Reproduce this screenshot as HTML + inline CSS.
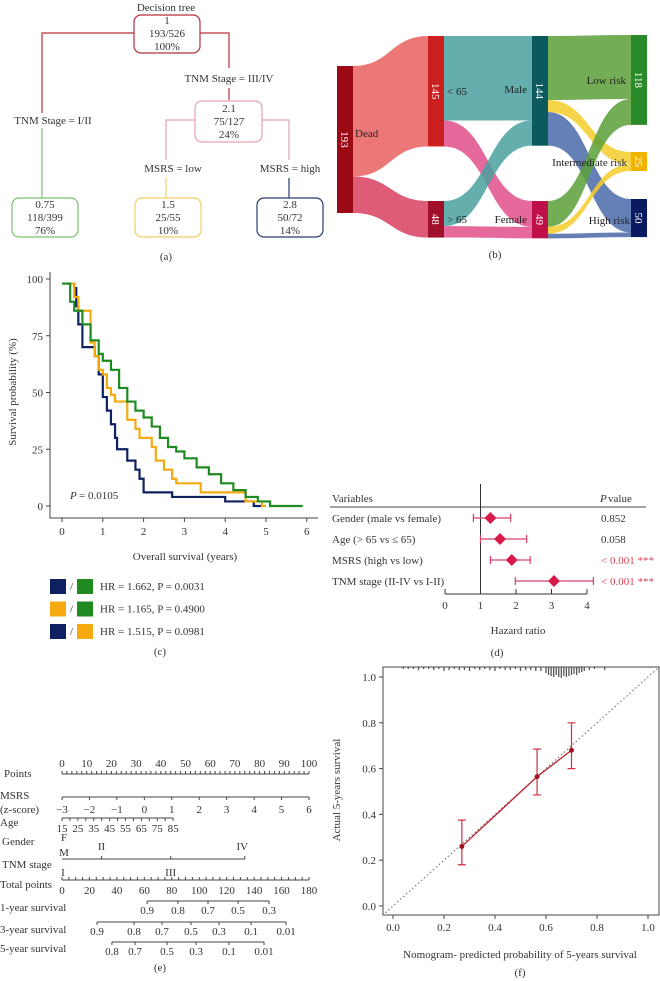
<!DOCTYPE html>
<html><head><meta charset="utf-8"><style>
html,body{margin:0;padding:0;background:#fff}
svg{display:block;font-family:"Liberation Serif",serif;fill:#333}
text{font-size:11px}
</style></head><body>
<svg id="root" width="660" height="981" viewBox="0 0 660 981" xmlns="http://www.w3.org/2000/svg">
<g font-size="11" text-anchor="middle">
<text x="166" y="11">Decision tree</text>
<path d="M134 33H42V113M200 33H229V68M229 88V100" fill="none" stroke="#b5303a" stroke-width="1.2"/>
<path d="M42 128V198" stroke="#7cc070" stroke-width="1.2"/>
<path d="M195 120H166V160M262 120H289V160" fill="none" stroke="#eaa0ad" stroke-width="1.2"/>
<path d="M166 178V198" stroke="#f0d060" stroke-width="1.2"/>
<path d="M289 178V198" stroke="#2a3a70" stroke-width="1.2"/>
<rect x="134" y="15" width="66" height="38" rx="7" fill="#fff" stroke="#b5303a" stroke-width="1.2"/>
<text x="167" y="24">1</text><text x="167" y="37">193/526</text><text x="167" y="50">100%</text>
<text x="229" y="82">TNM Stage = III/IV</text>
<rect x="195" y="101" width="67" height="41" rx="7" fill="#fff" stroke="#eaa0ad" stroke-width="1.2"/>
<text x="229" y="112">2.1</text><text x="229" y="125">75/127</text><text x="229" y="138">24%</text>
<text x="53" y="124">TNM Stage = I/II</text>
<text x="173" y="172">MSRS = low</text>
<text x="290" y="172">MSRS = high</text>
<rect x="12" y="198" width="66" height="39" rx="7" fill="#fff" stroke="#7cc070" stroke-width="1.2"/>
<text x="45" y="208">0.75</text><text x="45" y="221">118/399</text><text x="45" y="234">76%</text>
<rect x="135" y="198" width="66" height="39" rx="7" fill="#fff" stroke="#f0d060" stroke-width="1.2"/>
<text x="168" y="208">1.5</text><text x="168" y="221">25/55</text><text x="168" y="234">10%</text>
<rect x="257" y="198" width="66" height="39" rx="7" fill="#fff" stroke="#2a3a70" stroke-width="1.2"/>
<text x="290" y="208">2.8</text><text x="290" y="221">50/72</text><text x="290" y="234">14%</text>
<text x="166" y="260">(a)</text>
</g>
<g id="sankey"></g>
<g id="km"></g>
<g id="forest"></g>
<g id="nomo"></g>
<g id="calib"></g>
</svg>
<script>
const NS="http://www.w3.org/2000/svg";
function mk(p,tag,at,txt){const e=document.createElementNS(NS,tag);for(const k in at)e.setAttribute(k,at[k]);if(txt!==undefined)e.textContent=txt;p.appendChild(e);return e;}

const sankeyNodes=["Dead","< 65","> 65","Male","Female","Low risk","Intermediate risk","High risk"];
const sankeyCounts=[193,145,48,144,49,118,25,50];
const sankeyLinks=[[0,1,145],[0,2,48],[1,3,111],[1,4,34],[2,3,33],[2,4,15],[3,5,84],[3,6,16],[3,7,44],[4,5,34],[4,6,9],[4,7,6]];
(function(){
const g=document.getElementById('sankey');
const colX=[337,428,428,532,532,631,631,631];
const nodeY=[66,36,201,36,201,35,152,199];
const scale=147/193;
const nodeCol=["#9b0a14","#cc1f1f","#a0102a","#0a5a5e","#c0104a","#2a8a2a","#f0b400","#0a1a60"];
const outOff=sankeyCounts.map(()=>0), inOff=sankeyCounts.map(()=>0);
sankeyLinks.forEach((l,i)=>{
 const [s,t,v]=l;const h=v*scale;
 const x1=colX[s]+16,x2=colX[t];
 const y1=nodeY[s]+outOff[s]*scale, y2=nodeY[t]+inOff[t]*scale;
 outOff[s]+=v;inOff[t]+=v;
 let c;
 if(s===0)c=t===1?"#e8605f":"#d84060";
 else if(s<=2)c=t===3?"#4aa0a0":"#e0508a";
 else c=t===5?"#5aa03a":(t===6?"#f5cc2a":"#4a6aaa");
 const mx=(x1+x2)/2;
 const p=mk(g,'path',{d:`M${x1} ${y1}C${mx} ${y1} ${mx} ${y2} ${x2} ${y2}L${x2} ${y2+h}C${mx} ${y2+h} ${mx} ${y1+h} ${x1} ${y1+h}Z`,fill:c,'fill-opacity':0.85});
 
 
});
sankeyNodes.forEach((n,i)=>{
 const h=sankeyCounts[i]*scale;
 const r=mk(g,'rect',{x:colX[i],y:nodeY[i],width:16,height:h,fill:nodeCol[i]});
 
 
 const cx=colX[i]+8,cy=nodeY[i]+h/2;
 mk(g,'text',{x:cx,y:cy+4,transform:`rotate(90 ${cx} ${cy})`,'text-anchor':'middle',fill:'#fff','font-size':10},sankeyCounts[i]);
});
const lab=[["Dead",355,137,"start"],["< 65",447,95,"start"],["> 65",447,223,"start"],["Male",527,93,"end"],["Female",527,223,"end"],["Low risk",626,84,"end"],["Intermediate risk",627,166,"end"],["High risk",630,224,"end"]];
lab.forEach(l=>{const t=mk(g,'text',{x:l[1],y:l[2],'text-anchor':l[3],fill:'#222','font-size':11},l[0]);
 
 });
mk(g,'text',{x:495,y:258,'text-anchor':'middle'},'(b)');
})();

const kmGreenT=[0,0.1,0.2,0.3,0.5,0.7,0.9,1.0,1.2,1.4,1.6,1.8,2.0,2.2,2.4,2.6,2.8,3.0,3.3,3.6,3.9,4.2,4.5,4.8,5.1,5.9];
const kmGreenS=[98,98,90,86,80,73,67,64,60,52,46,42,39,35,30,26,24,21,17,14,10,7,4,2,0,0];
const kmYellowT=[0.1,0.3,0.4,0.7,0.8,0.9,1.0,1.1,1.2,1.3,1.6,1.8,1.9,2.2,2.3,2.5,2.7,2.8,3.4,4.5,4.9,5.0];
const kmYellowS=[98,92,86,72,66,60,58,52,49,46,38,34,30,26,20,16,12,10,6,2,0,0];
const kmNavyT=[0.1,0.3,0.35,0.4,0.5,0.7,0.8,0.9,1.0,1.1,1.2,1.3,1.35,1.6,1.8,1.9,2.0,2.7,4.0,4.6,4.7,4.9];
const kmNavyS=[98,96,88,80,70,70,66,58,48,42,36,30,25,20,16,12,6,4,2,2,0,0];
const kmXTicks=[0,1,2,3,4,5,6];
const kmYTicks=[0,25,50,75,100];
(function(){
const g=document.getElementById('km');
const X=t=>62+t*40.8, Y=s=>506-s*2.27;
mk(g,'path',{d:'M50 272V518H318',fill:'none',stroke:'#444','stroke-width':1});
kmXTicks.forEach(t=>{mk(g,'line',{x1:X(t),x2:X(t),y1:518,y2:522,stroke:'#444'});mk(g,'text',{x:X(t),y:535,'text-anchor':'middle'},t);});
kmYTicks.forEach(s=>{mk(g,'line',{x1:46,x2:50,y1:Y(s),y2:Y(s),stroke:'#444'});mk(g,'text',{x:43,y:Y(s)+4,'text-anchor':'end'},s);});
function step(T,S,col,name){let d=`M${X(T[0])} ${Y(S[0])}`;for(let i=1;i<T.length;i++){d+=`H${X(T[i])}V${Y(S[i])}`;}
 const p=mk(g,'path',{d,fill:'none',stroke:col,'stroke-width':2.2});
 
 }
step(kmNavyT,kmNavyS,'#0f2060','km-curve-high');
step(kmYellowT,kmYellowS,'#f5aa10','km-curve-intermediate');
step(kmGreenT,kmGreenS,'#1f8a20','km-curve-low');
mk(g,'text',{x:70,y:499,'font-style':'italic'},'P');
mk(g,'text',{x:79,y:499},'= 0.0105');
mk(g,'text',{x:185,y:560,'text-anchor':'middle'},'Overall survival (years)');
mk(g,'text',{x:16,y:392,'text-anchor':'middle',transform:'rotate(-90 16 392)'},'Survival probability (%)');
const leg=[['#0f2060','#1f8a20','HR = 1.662, P = 0.0031'],['#f5aa10','#1f8a20','HR = 1.165, P = 0.4900'],['#0f2060','#f5aa10','HR = 1.515, P = 0.0981']];
leg.forEach((l,i)=>{const y=579+i*22.5;
 const a=mk(g,'rect',{x:50,y,width:16,height:15,fill:l[0]});
 
 
 mk(g,'rect',{x:77,y,width:16,height:15,fill:l[1]});
 mk(g,'text',{x:70,y:y+11,'font-size':9},'/');
 const t=mk(g,'text',{x:100,y:y+11},l[2]);
 
 });
mk(g,'text',{x:160,y:655,'text-anchor':'middle'},'(c)');
})();

const forestVars=["Gender (male vs female)","Age (> 65 vs \u2264 65)","MSRS (high vs low)","TNM stage (II-IV vs I-II)"];
const forestHR=[1.28,1.55,1.88,3.07];
const forestLo=[0.8,1.0,1.28,1.98];
const forestHi=[1.85,2.3,2.4,4.18];
const forestP=["0.852","0.058","< 0.001","< 0.001"];
const forestTicks=[0,1,2,3,4];
(function(){
const g=document.getElementById('forest');
const X=v=>445+v*35.5;
mk(g,'text',{x:332,y:502},'Variables');
mk(g,'text',{x:600,y:502,'font-style':'italic'},'P');
mk(g,'text',{x:608,y:502},'value');
mk(g,'line',{x1:330,x2:646,y1:507,y2:507,stroke:'#444'});
mk(g,'line',{x1:X(1),x2:X(1),y1:484,y2:594,stroke:'#333'});
mk(g,'line',{x1:X(0),x2:X(4),y1:594,y2:594,stroke:'#333'});
forestTicks.forEach(t=>{mk(g,'line',{x1:X(t),x2:X(t),y1:594,y2:589,stroke:'#333'});mk(g,'text',{x:X(t),y:609,'text-anchor':'middle'},t);});
forestVars.forEach((v,i)=>{const y=518+i*21;
 mk(g,'text',{x:332,y:y+4},v);
 const l=mk(g,'path',{d:`M${X(forestLo[i])} ${y}H${X(forestHi[i])}M${X(forestLo[i])} ${y-4}V${y+4}M${X(forestHi[i])} ${y-4}V${y+4}`,stroke:'#d8406a','stroke-width':1.2,fill:'none'});
 
 
 const cx=X(forestHR[i]);
 const d=mk(g,'path',{d:`M${cx-6} ${y}L${cx} ${y-6}L${cx+6} ${y}L${cx} ${y+6}Z`,fill:'#d81a4a'});
 
 
 const red=forestP[i].indexOf('<')===0;
 mk(g,'text',{x:601,y:y+4,fill:red?'#e04050':'#333'},forestP[i]+(red?'  ***':''));
});
mk(g,'text',{x:518,y:634,'text-anchor':'middle'},'Hazard ratio');
mk(g,'text',{x:497,y:656,'text-anchor':'middle'},'(d)');
})();

const nomoPoints=[0,10,20,30,40,50,60,70,80,90,100];
const nomoMsrs=[-3,-2,-1,0,1,2,3,4,5,6];
const nomoAge=[15,25,35,45,55,65,75,85];
const nomoTotal=[0,20,40,60,80,100,120,140,160,180];
const nomo1yLab=["0.9","0.8","0.7","0.5","0.3"];
const nomo1yPts=[62,84.5,106.4,128.3,150.9];
const nomo3yLab=["0.9","0.8","0.7","0.5","0.3","0.1","0.01"];
const nomo3yPts=[25.5,52.5,72.9,94,114.4,137.8,163.3];
const nomo5yLab=["0.8","0.7","0.5","0.3","0.1","0.01"];
const nomo5yPts=[36.4,53.2,76.5,97.7,121.7,147.2];
(function(){
const g=document.getElementById('nomo');
const P=p=>62+p*2.47;
const T=t=>62+t*(247/180);
const M=m=>P((m+3)*100/9);
const A=a=>P((a-15)*45/70);
function axis(y,x1,x2){mk(g,'line',{x1,x2,y1:y,y2:y,stroke:'#444'});}
function tick(x,y,up){mk(g,'line',{x1:x,x2:x,y1:y,y2:up?y-3:y+3,stroke:'#444'});}
function lab(x,y,s,anc){mk(g,'text',{x,y,'text-anchor':anc||'middle'},s);}
lab(4,777,'Points','start');
axis(774,P(0),P(100));
for(let p=0;p<=100;p+=2)tick(P(p),774,true);
nomoPoints.forEach(p=>lab(P(p),767,p));
lab(0,799,'MSRS','start');lab(0,813,'(z-score)','start');
axis(797,M(-3),M(6));nomoMsrs.forEach(m=>{tick(M(m),797,false);lab(M(m),813,m<0?'\u2212'+(-m):m);});
lab(0,826,'Age','start');
axis(818,A(15),A(85));for(let a=15;a<=85;a+=5)tick(A(a),818,false);
nomoAge.forEach(a=>lab(A(a),832,a));
lab(2,845,'Gender','start');lab(64,841,'F');lab(64,856,'M');
lab(2,868,'TNM stage','start');
axis(859,P(0),P(74));tick(P(16),859,true);tick(P(44),859,true);tick(P(74),859,true);
lab(P(16),850,'II');lab(P(73),850,'IV');lab(P(0)+1,876,'I');lab(P(44),876,'III');
lab(0,888,'Total points','start');
axis(880,T(0),T(180));for(let t=0;t<=180;t+=5)tick(T(t),880,true);
nomoTotal.forEach(t=>lab(T(t),894,t));
function surv(y,pts,labs){axis(y,T(pts[0]),T(pts[pts.length-1]));pts.forEach((p,i)=>{tick(T(p),y,false);lab(T(p),y+13,labs[i]);});}
lab(0,911,'1-year survival','start');surv(901,nomo1yPts,nomo1yLab);
lab(0,933,'3-year survival','start');surv(922,nomo3yPts,nomo3yLab);
lab(0,952,'5-year survival','start');surv(942,nomo5yPts,nomo5yLab);
lab(160,971,'(e)');
})();

const calPred=[0.27,0.565,0.70];
const calObs=[0.26,0.565,0.68];
const calLo=[0.18,0.485,0.60];
const calHi=[0.375,0.685,0.80];
const calTicks=[0,0.2,0.4,0.6,0.8,1.0];
const rugVals=[0.04,0.06,0.08,0.1,0.12,0.14,0.16,0.18,0.2,0.22,0.24,0.26,0.28,0.3,0.32,0.34,0.36,0.38,0.4,0.42,0.44,0.46,0.48,0.5,0.52,0.54,0.56,0.58,0.6,0.61,0.62,0.63,0.64,0.65,0.66,0.67,0.68,0.69,0.7,0.71,0.72,0.73,0.74,0.75,0.77,0.79,0.83];
const rugLen=[2,2,2,3,2,2,3,2,4,3,2,3,3,4,2,3,2,3,4,2,3,3,2,4,3,3,4,4,6,8,9,10,8,10,11,9,10,9,8,7,8,6,5,4,3,2,3];
(function(){
const g=document.getElementById('calib');
const X=v=>393+v*255, Y=v=>906-v*229;
mk(g,'rect',{x:383,y:667,width:276,height:248,fill:'none',stroke:'#444'});
const dg=mk(g,'line',{x1:X(-0.03),y1:Y(-0.03),x2:X(1.04),y2:Y(1.04),stroke:'#666','stroke-dasharray':'1.5,2.5'});


calTicks.forEach(t=>{mk(g,'line',{x1:X(t),x2:X(t),y1:915,y2:919,stroke:'#444'});mk(g,'text',{x:X(t),y:931,'text-anchor':'middle'},t.toFixed(1));
 mk(g,'line',{x1:383,x2:379,y1:Y(t),y2:Y(t),stroke:'#444'});mk(g,'text',{x:376,y:Y(t)+4,'text-anchor':'end'},t.toFixed(1));});
rugVals.forEach((v,i)=>{const r=mk(g,'line',{x1:X(v),x2:X(v),y1:667,y2:667+rugLen[i],stroke:'#555','stroke-width':1.3});
 
 });
let d='';calPred.forEach((p,i)=>d+=(i?'L':'M')+X(p)+' '+Y(calObs[i]));
const ln=mk(g,'path',{d,stroke:'#c0202a','stroke-width':1.3,fill:'none'});


calPred.forEach((p,i)=>{const x=X(p);
 const e=mk(g,'path',{d:`M${x} ${Y(calLo[i])}V${Y(calHi[i])}M${x-4} ${Y(calLo[i])}H${x+4}M${x-4} ${Y(calHi[i])}H${x+4}`,stroke:'#d03040','stroke-width':1.2,fill:'none'});
 
 
 const c=mk(g,'circle',{cx:x,cy:Y(calObs[i]),r:2.5,fill:'#a01020'});
 
 });
mk(g,'text',{x:520,y:958,'text-anchor':'middle'},'Nomogram- predicted probability of 5-years survival');
mk(g,'text',{x:340,y:790,'text-anchor':'middle',transform:'rotate(-90 340 790)'},'Actual 5-years survival');
mk(g,'text',{x:520,y:976,'text-anchor':'middle'},'(f)');
})();
</script>
</body></html>
